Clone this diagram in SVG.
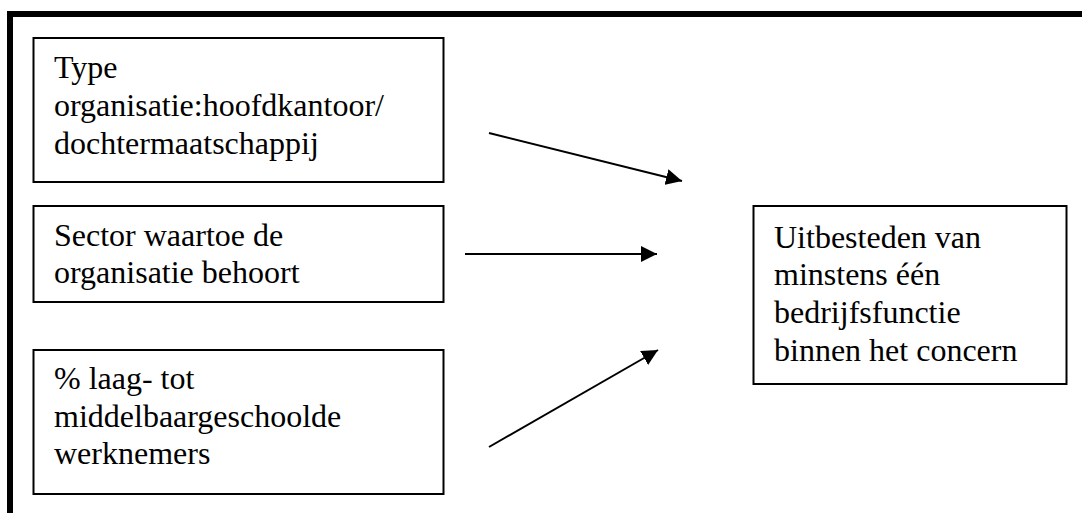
<svg xmlns="http://www.w3.org/2000/svg" width="1082" height="513" viewBox="0 0 1082 513">
<defs>
<style>
.box{fill:#fff;stroke:#000;stroke-width:2}
.t{font-family:'Liberation Serif','Times New Roman',Times,'DejaVu Serif',serif;font-size:32px;fill:#000}
.c{stroke:#000;stroke-width:2;fill:none}
</style>
<marker id="ah" viewBox="0 0 16 16" refX="16" refY="8" markerWidth="16" markerHeight="16" markerUnits="userSpaceOnUse" orient="auto">
<path d="M0,0 L16,8 L0,16 z" fill="#000"/>
</marker>
</defs>
<rect width="1082" height="513" fill="#fff"/>
<g id="frame">
<rect x="7" y="11" width="1075" height="6" fill="#000"/>
<rect x="7" y="11" width="6" height="502" fill="#000"/>
</g>
<g id="node-type" font-family="Liberation Serif, serif">
<rect class="box" x="33.5" y="38" width="410" height="144"/>
<text class="t" x="54" y="78">Type</text>
<text class="t" x="54" y="116">organisatie:hoofdkantoor/</text>
<text class="t" x="54" y="154">dochtermaatschappij</text>
</g>
<g id="node-sector" font-family="Liberation Serif, serif">
<rect class="box" x="33.5" y="206" width="410" height="96"/>
<text class="t" x="54" y="246">Sector waartoe de</text>
<text class="t" x="54" y="283">organisatie behoort</text>
</g>
<g id="node-laag" font-family="Liberation Serif, serif">
<rect class="box" x="33.5" y="350" width="410" height="144"/>
<text class="t" x="54" y="389">% laag- tot</text>
<text class="t" x="54" y="427">middelbaargeschoolde</text>
<text class="t" x="54" y="464">werknemers</text>
</g>
<g id="node-uitbesteden" font-family="Liberation Serif, serif">
<rect class="box" x="753.5" y="206" width="313" height="178"/>
<text class="t" x="774" y="248">Uitbesteden van</text>
<text class="t" x="774" y="285">minstens één</text>
<text class="t" x="774" y="323">bedrijfsfunctie</text>
<text class="t" x="774" y="361">binnen het concern</text>
</g>
<g id="connectors">
<line class="c" x1="489" y1="133" x2="682" y2="181" marker-end="url(#ah)"/>
<line class="c" x1="465" y1="254" x2="657" y2="254" marker-end="url(#ah)"/>
<line class="c" x1="489" y1="447" x2="658" y2="350" marker-end="url(#ah)"/>
</g>
</svg>
